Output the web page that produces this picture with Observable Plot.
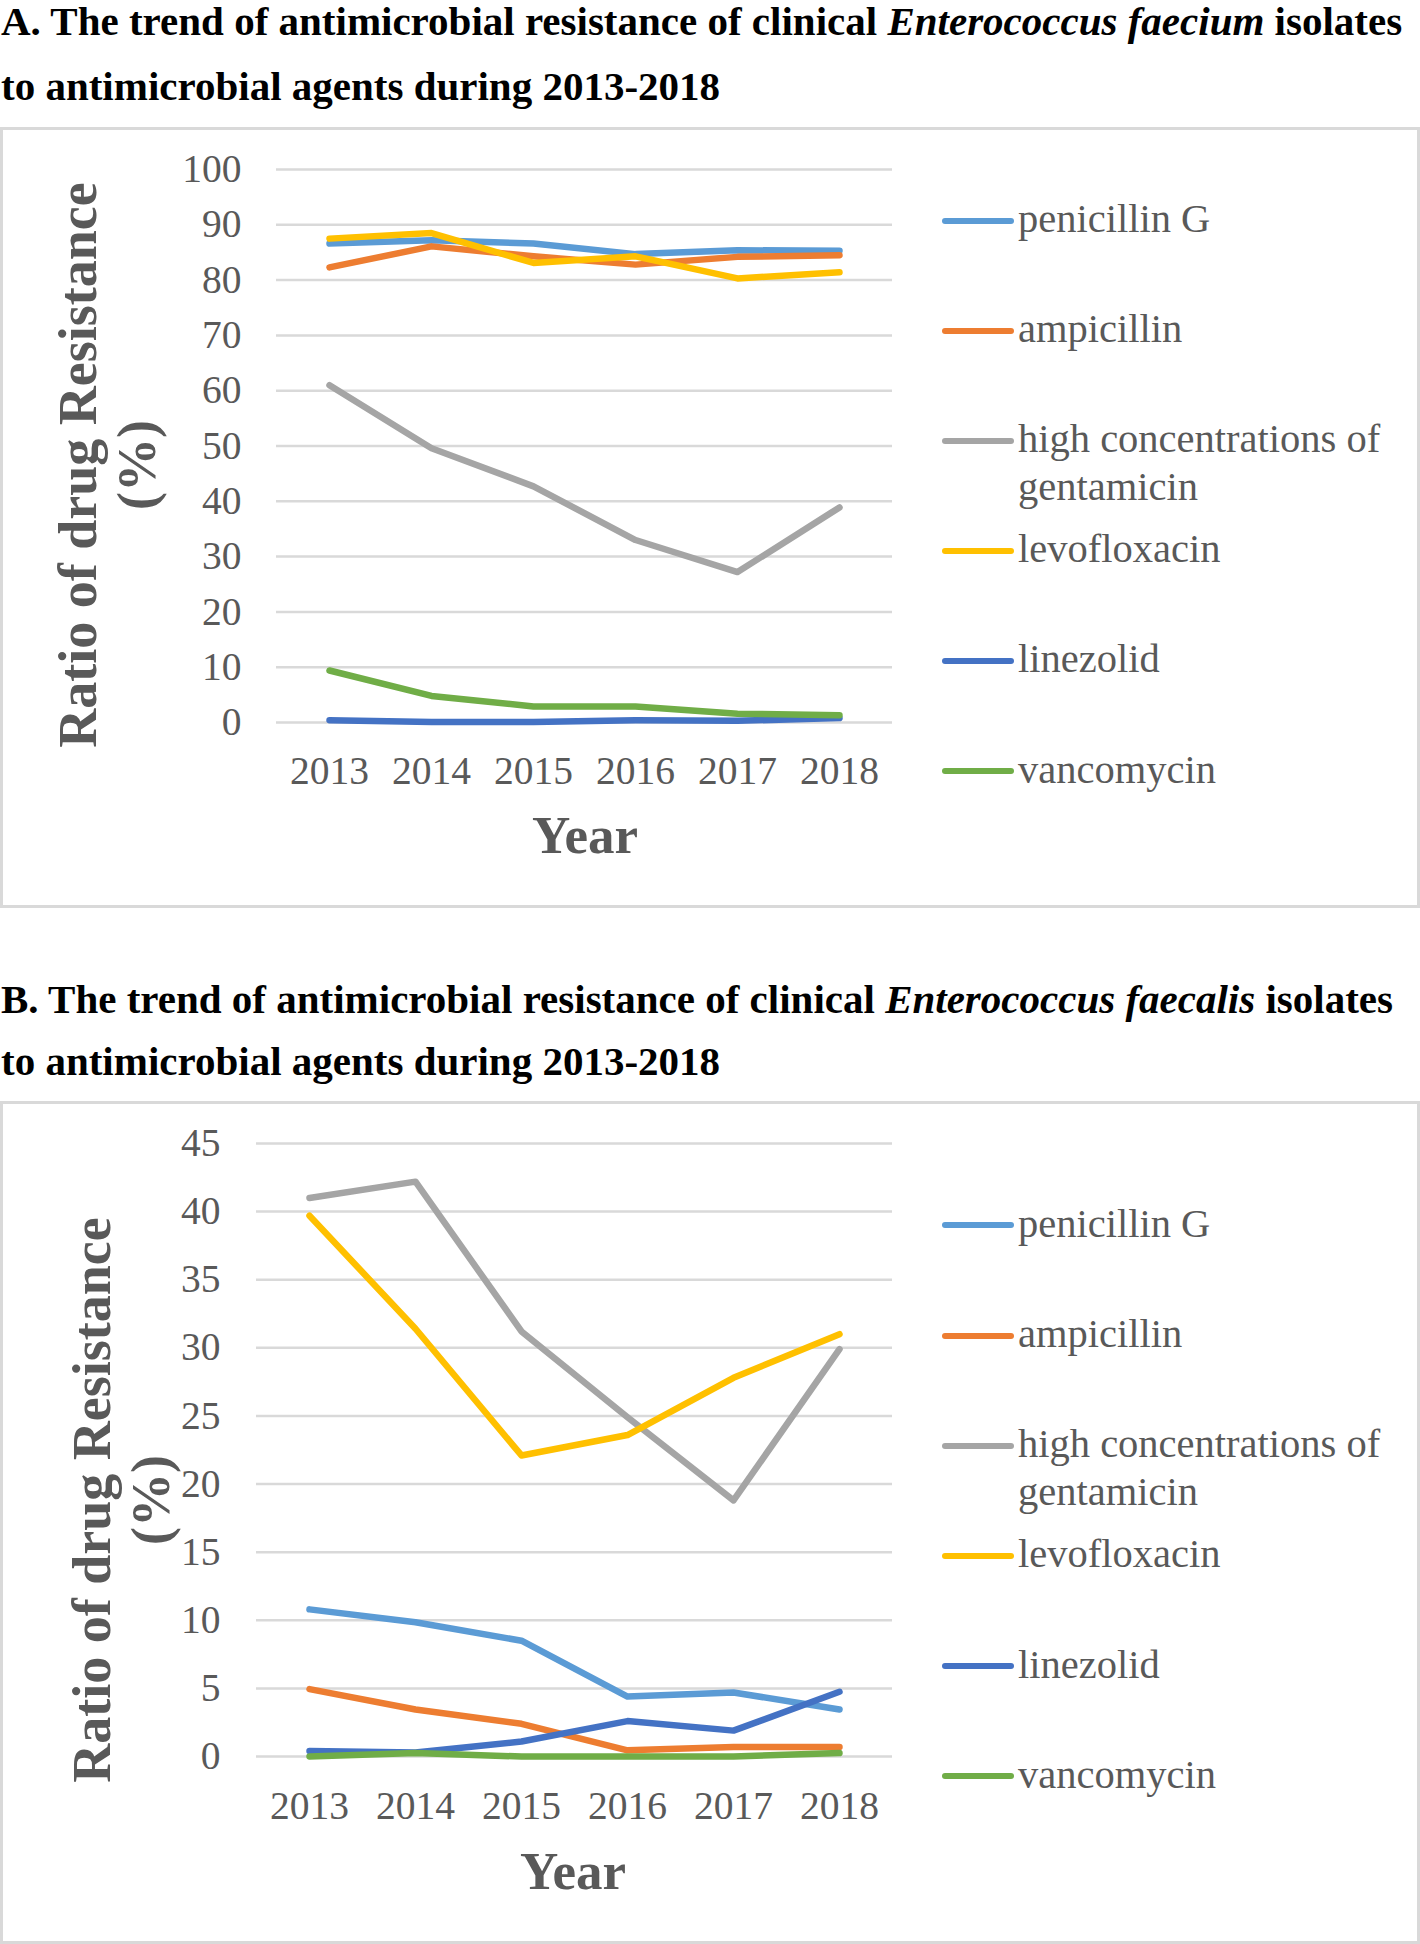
<!DOCTYPE html>
<html>
<head>
<meta charset="utf-8">
<script src="https://cdn.jsdelivr.net/npm/d3@7"></script>
<script src="https://cdn.jsdelivr.net/npm/@observablehq/plot@0.6"></script>
<style>
html, body { margin: 0; padding: 0; background: #ffffff; }
body { width: 1420px; height: 1944px; position: relative; overflow: hidden;
       font-family: "Liberation Serif", "Times New Roman", serif; }
.title { position: absolute; left: 1px; font-weight: bold; font-size: 41px; color: #000;
         white-space: nowrap; }
.box { position: absolute; left: 0; width: 1420px; box-sizing: border-box; border: 3px solid #D9D9D9; }
.chart { position: absolute; left: 0; }
.ytitle { position: absolute; font-weight: bold; font-size: 54px; line-height: 59px; color: #595959;
          white-space: pre; text-align: center; transform: translate(-50%, -50%) rotate(-90deg); }
.xtitle { position: absolute; font-weight: bold; font-size: 53px; line-height: 53px; color: #595959;
          white-space: nowrap; transform: translateX(-50%); }
.sw { position: absolute; left: 942px; width: 72px; height: 6px; border-radius: 3px; }
.lt { position: absolute; left: 1018px; font-size: 40.5px; line-height: 48px; color: #595959; white-space: nowrap; }
</style>
</head>
<body>
<script>
// ---------------- data ----------------
const years = ["2013", "2014", "2015", "2016", "2017", "2018"];
const drugs = ["penicillin G", "ampicillin", "high concentrations of gentamicin", "levofloxacin", "linezolid", "vancomycin"];
const drugLabels = ["penicillin G", "ampicillin", "high concentrations of\ngentamicin", "levofloxacin", "linezolid", "vancomycin"];
const colors = ["#5B9BD5", "#ED7D31", "#A5A5A5", "#FFC000", "#4472C4", "#70AD47"];

// A. Enterococcus faecium (%)
const penicillinA   = [86.6, 87.2, 86.6, 84.7, 85.4, 85.3];
const ampicillinA   = [82.3, 86.1, 84.3, 82.8, 84.2, 84.5];
const gentamicinA   = [61.0, 49.6, 42.7, 33.0, 27.2, 38.9];
const levofloxacinA = [87.5, 88.5, 83.1, 84.3, 80.3, 81.4];
const linezolidA    = [0.4, 0.1, 0.1, 0.4, 0.3, 0.8];
const vancomycinA   = [9.4, 4.8, 2.9, 2.9, 1.6, 1.3];
const yTicksA = [0, 10, 20, 30, 40, 50, 60, 70, 80, 90, 100];

// B. Enterococcus faecalis (%)
const penicillinB   = [10.8, 9.85, 8.5, 4.4, 4.7, 3.45];
const ampicillinB   = [4.95, 3.45, 2.4, 0.45, 0.7, 0.7];
const gentamicinB   = [41.0, 42.2, 31.2, 24.9, 18.8, 29.9];
const levofloxacinB = [39.7, 31.4, 22.1, 23.6, 27.8, 31.0];
const linezolidB    = [0.4, 0.3, 1.1, 2.6, 1.9, 4.75];
const vancomycinB   = [0, 0.25, 0, 0, 0, 0.25];
const yTicksB = [0, 5, 10, 15, 20, 25, 30, 35, 40, 45];

const titleA = 'A. The trend of antimicrobial resistance of clinical <i>Enterococcus faecium</i> isolates<br>to antimicrobial agents during 2013-2018';
const titleB = 'B. The trend of antimicrobial resistance of clinical <i>Enterococcus faecalis</i> isolates<br>to antimicrobial agents during 2013-2018';
const yTitle = "Ratio of drug Resistance\n(%)";
const xTitle = "Year";

// ---------------- helpers ----------------
function el(tag, cls, css, html) {
  const e = document.createElement(tag);
  if (cls) e.className = cls;
  Object.assign(e.style, css || {});
  if (html != null) e.innerHTML = html;
  document.body.appendChild(e);
  return e;
}

function tidy(series) {
  const rows = [];
  drugs.forEach((d, i) => years.forEach((y, j) => rows.push({drug: d, year: y, value: series[i][j]})));
  return rows;
}

function panel(cfg) {
  el("div", "title", {top: cfg.titleTop + "px", lineHeight: cfg.titleLH + "px"}, cfg.title);
  el("div", "box", {top: cfg.boxTop + "px", height: cfg.boxH + "px"});
  const chart = Plot.plot({
    width: 900,
    height: cfg.boxH,
    marginLeft: cfg.mLeft,
    marginRight: 8,
    marginTop: cfg.mTop,
    marginBottom: cfg.mBottom,
    style: {fontFamily: '"Liberation Serif", "Times New Roman", serif', fontSize: "39.5px",
            color: "#595959", background: "transparent", overflow: "visible"},
    x: {type: "point", domain: years, padding: 0.5, label: null},
    y: {domain: cfg.yDomain, label: null},
    color: {domain: drugs, range: colors},
    marks: [
      Plot.gridY(cfg.yTicks, {stroke: "#D9D9D9", strokeOpacity: 1, strokeWidth: 2.5}),
      Plot.axisY(cfg.yTicks, {tickSize: 0, tickPadding: cfg.yPad, label: null}),
      Plot.axisX(years, {tickSize: 0, tickPadding: cfg.xPad, label: null}),
      Plot.line(tidy(cfg.series), {x: "year", y: "value", z: "drug", stroke: "drug",
        strokeWidth: 6.5, strokeLinecap: "round", strokeLinejoin: "round"})
    ]
  });
  const wrap = el("div", "chart", {top: cfg.boxTop + "px"});
  wrap.appendChild(chart);
  const colorScale = chart.scale("color");

  el("div", "ytitle", {left: cfg.yTitleX + "px", top: cfg.yTitleY + "px"}).textContent = yTitle;
  el("div", "xtitle", {left: cfg.xTitleX + "px", top: cfg.xTitleTop + "px"}).textContent = xTitle;

  drugs.forEach((d, i) => {
    const cy = cfg.legY0 + i * cfg.legStep;
    el("div", "sw", {top: (cy - 3) + "px", background: colorScale.apply(d)});
    const t = el("div", "lt", {top: (cy - 25.5) + "px"});
    t.innerHTML = drugLabels[i].replace("\n", "<br>");
  });
}

panel({
  title: titleA, titleTop: -11.3, titleLH: 65,
  boxTop: 127, boxH: 781,
  mLeft: 276, mTop: 42, mBottom: 781 - 595,
  yDomain: [0, 100], yTicks: yTicksA, yPad: 35, xPad: 33,
  series: [penicillinA, ampicillinA, gentamicinA, levofloxacinA, linezolidA, vancomycinA],
  yTitleX: 108, yTitleY: 465,
  xTitleX: 585, xTitleTop: 808.6,
  legY0: 220.5, legStep: 110.1
});

panel({
  title: titleB, titleTop: 968.2, titleLH: 62,
  boxTop: 1101, boxH: 843,
  mLeft: 256, mTop: 42, mBottom: 188,
  yDomain: [0, 45], yTicks: yTicksB, yPad: 36, xPad: 34,
  series: [penicillinB, ampicillinB, gentamicinB, levofloxacinB, linezolidB, vancomycinB],
  yTitleX: 122, yTitleY: 1500,
  xTitleX: 573, xTitleTop: 1844.6,
  legY0: 1225.3, legStep: 110.2
});
</script>
</body>
</html>
